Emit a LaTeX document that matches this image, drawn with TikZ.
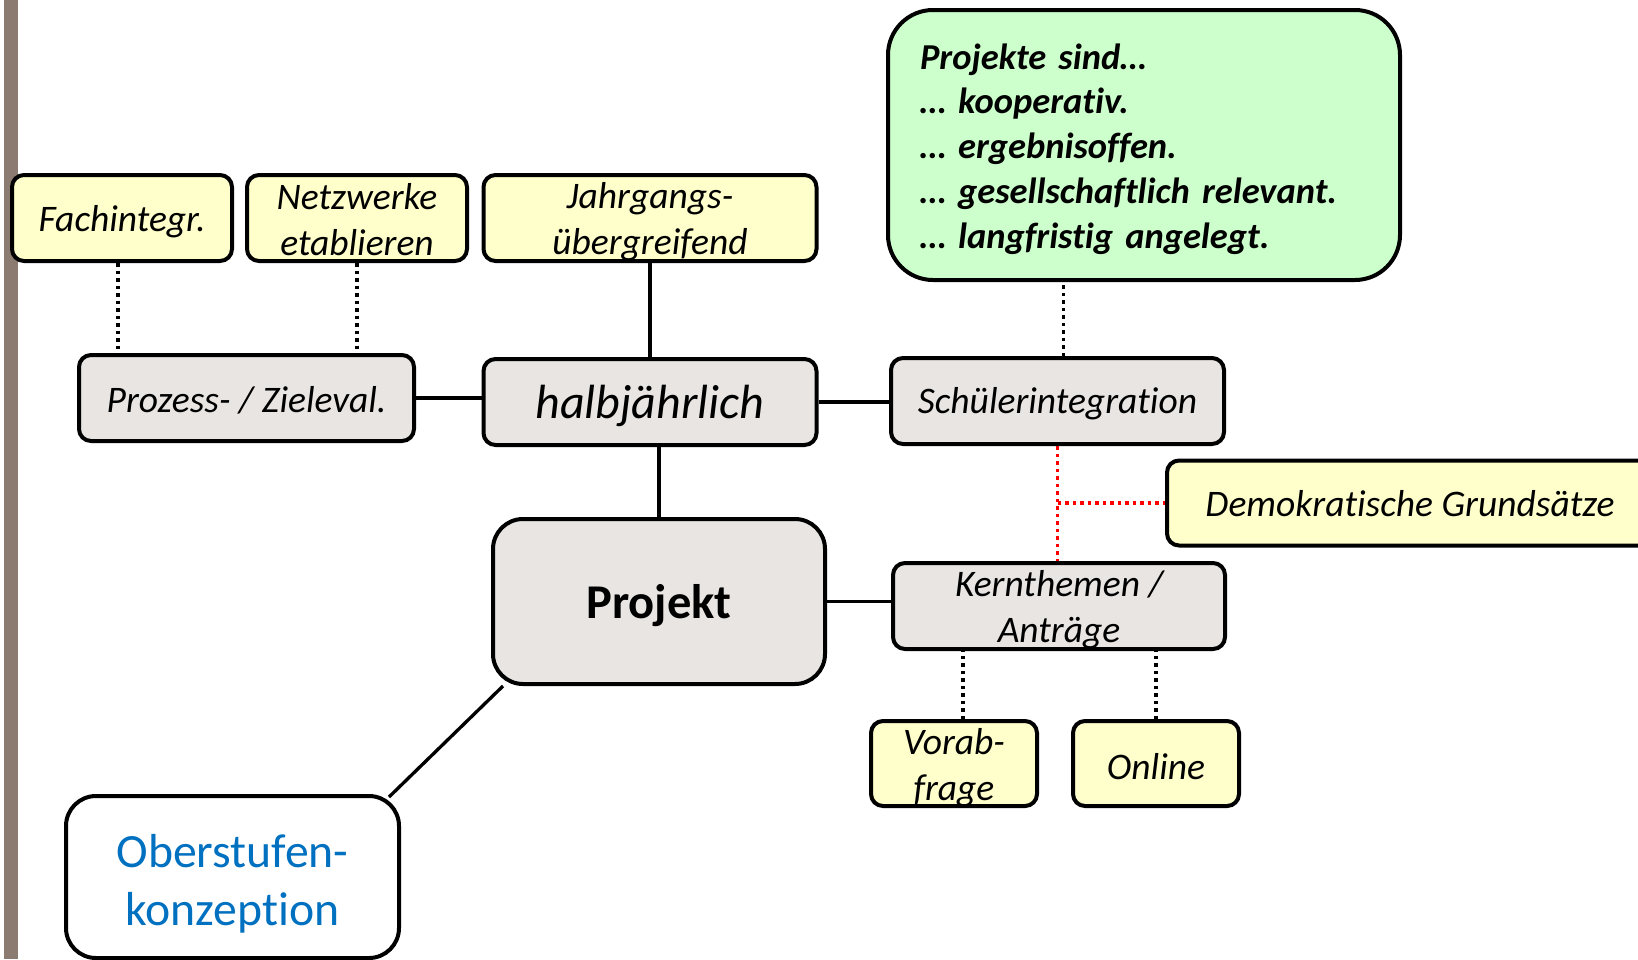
\documentclass[tikz,border=0pt]{standalone}
\usepackage{fontspec}
\setmainfont{Carlito}[Ligatures=NoCommon]
\usetikzlibrary{backgrounds}
\definecolor{barcol}{RGB}{139,123,112}
\definecolor{yel}{RGB}{255,255,204}
\definecolor{gry}{RGB}{232,229,226}
\definecolor{grn}{RGB}{204,255,204}
\definecolor{blu}{RGB}{0,112,192}
\tikzset{
  box/.style={draw=black, line width=4pt, rounded corners=12pt, inner sep=0pt},
  ybox/.style={box, fill=yel},
  gbox/.style={box, fill=gry},
  txt/.style={inner sep=0pt, align=center, font=\fontsize{37.5}{46}\selectfont\itshape},
  bigtxt/.style={inner sep=0pt, align=center, font=\fontsize{48}{56}\selectfont\itshape},
  conn/.style={line width=3.3pt, black},
  dotconn/.style={line width=3.5pt, black, dash pattern=on 3.5pt off 4pt},
  redconn/.style={line width=3.5pt, red, dash pattern=on 3.5pt off 4pt}
}
\begin{document}
\begin{tikzpicture}[x=1pt,y=-1pt]
\clip (0,0) rectangle (1638,959);
\useasboundingbox (0,0) rectangle (1638,959);

% boxes
\node[ybox, minimum width=220pt, minimum height=86pt] (fach) at (122,218) {};
\node[ybox, minimum width=220pt, minimum height=86pt] (netz) at (357,218) {};
\node[ybox, minimum width=333pt, minimum height=86pt] (jahr) at (650,218) {};
\node[box, fill=grn, rounded corners=45pt, minimum width=512pt, minimum height=270pt] (green) at (1144,145) {};
\node[gbox, minimum width=335pt, minimum height=86pt] (proz) at (246.5,398) {};
\node[gbox, minimum width=333pt, minimum height=86pt] (halb) at (650,402) {};
\node[gbox, minimum width=333pt, minimum height=86pt] (schue) at (1057.5,401) {};
\node[ybox, minimum width=486pt, minimum height=85pt] (demo) at (1410,503) {};
\node[gbox, rounded corners=30pt, minimum width=332pt, minimum height=165pt] (proj) at (659,601.5) {};
\node[gbox, minimum width=332pt, minimum height=86pt] (kern) at (1059,606) {};
\node[ybox, minimum width=166pt, minimum height=85pt] (vorab) at (954,763.5) {};
\node[ybox, minimum width=166pt, minimum height=85pt] (online) at (1156,763.5) {};
\node[box, fill=white, rounded corners=30pt, minimum width=333pt, minimum height=162pt] (ober) at (232.5,877) {};

% texts
\node[txt] (fach-t) at ([yshift=-4pt]fach.center) {Fachintegr.};
\node[txt] (netz-t) at ([yshift=-2pt]netz.center) {Netzwerke\\etablieren};
\node[txt] (jahr-t) at ([yshift=-4pt]jahr.center) {Jahrgangs-\\übergreifend};
\node[txt, text width=448pt, align=left, font=\fontsize{36.5}{44.8}\selectfont\bfseries\itshape] (green-t) at ([xshift=0pt,yshift=-4pt]green.center)
  {Projekte sind…\\… kooperativ.\\… ergebnisoffen.\\… gesellschaftlich relevant.\\… langfristig angelegt.};
\node[txt] (proz-t) at ([yshift=-2pt]proz.center) {Prozess- / Zieleval.};
\node[bigtxt] (halb-t) at ([yshift=-4pt]halb.center) {halbjährlich};
\node[txt] (schue-t) at ([yshift=-3pt]schue.center) {Schülerintegration};
\node[txt] (demo-t) at ([yshift=-1pt]demo.center) {Demokratische Grundsätze};
\node[bigtxt, font=\fontsize{48.5}{56}\selectfont\bfseries] (proj-t) at ([yshift=-4pt]proj.center) {Projekt};
\node[txt] (kern-t) at ([yshift=-4pt]kern.center) {Kernthemen /\\Anträge};
\node[txt] (vorab-t) at ([yshift=-4pt]vorab.center) {Vorab-\\frage};
\node[txt] (online-t) at ([yshift=-3pt]online.center) {Online};
\node[bigtxt, text=blu, font=\fontsize{47.7}{58}\selectfont] (ober-t) at ([yshift=-7pt]ober.center) {Oberstufen-\\konzeption};

\begin{scope}[on background layer]
\fill[white] (0,0) rectangle (1638,959);
\fill[barcol] (4,0) rectangle (18,959);
\draw[dotconn] (fach.south) ++(-4pt,0) coordinate (f1) -- (f1 |- proz.north);
\draw[dotconn] (netz.south) -- (netz.south |- proz.north);
\draw[conn] (jahr.south) -- (halb.north);
\draw[conn] (proz.east) -- (proz.east -| halb.west);
\draw[conn] (halb.east) -- (halb.east -| schue.west);
\draw[conn] (halb.south -| proj.north) -- (proj.north);
\draw[dotconn] ([xshift=6pt]schue.north) -- ([xshift=6pt]schue.north |- green.south);
\draw[redconn] (schue.south) -- (schue.south |- kern.north);
\draw[redconn] (schue.south |- demo.west) -- (demo.west);
\draw[conn] (proj.east) -- (proj.east -| kern.west);
\draw[dotconn] ([xshift=9pt]vorab.north) -- ([xshift=9pt]vorab.north |- kern.south);
\draw[dotconn] (online.north) -- (online.north |- kern.south);
\draw[conn] ([xshift=12pt]proj.south west) -- ([xshift=-12pt,yshift=-3pt]ober.north east);
\end{scope}
\end{tikzpicture}
\end{document}
